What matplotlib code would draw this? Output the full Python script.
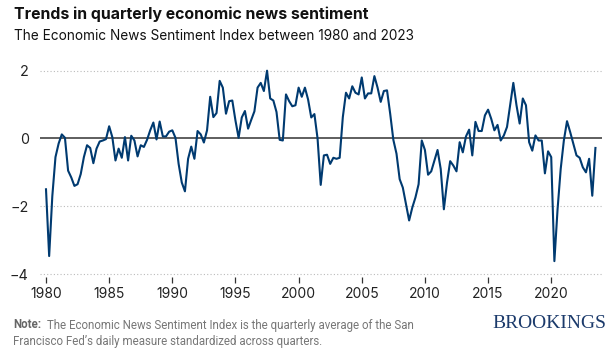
import numpy as np
import matplotlib
matplotlib.use('Agg')
import matplotlib.pyplot as plt

# quarterly index values, 1980Q1 .. 2023Q3
values_by_year = {
    1980: [-1.5, -3.47, -1.7, -0.55],
    1981: [-0.15, 0.12, 0.02, -0.95],
    1982: [-1.15, -1.4, -1.35, -1.05],
    1983: [-0.55, -0.2, -0.28, -0.73],
    1984: [-0.3, -0.09, -0.06, -0.02],
    1985: [0.36, 0.04, -0.65, -0.3],
    1986: [-0.57, 0.04, -0.65, 0.08],
    1987: [-0.06, -0.53, -0.2, -0.25],
    1988: [-0.04, 0.24, 0.47, -0.03],
    1989: [0.5, 0.06, 0.06, 0.2],
    1990: [0.24, 0.02, -0.75, -1.3],
    1991: [-1.56, -0.6, -0.24, -0.6],
    1992: [0.22, 0.12, -0.12, 0.24],
    1993: [1.23, 0.63, 0.75, 1.7],
    1994: [1.5, 0.73, 1.1, 1.12],
    1995: [0.53, 0.02, 0.62, 0.81],
    1996: [0.29, 0.55, 0.8, 1.5],
    1997: [1.64, 1.4, 2.0, 1.18],
    1998: [1.12, 0.78, -0.04, -0.06],
    1999: [1.3, 1.1, 0.95, 0.98],
    2000: [1.5, 1.23, 1.5, 1.15],
    2001: [0.62, 0.72, 0.0, -1.37],
    2002: [-0.5, -0.48, -0.75, -0.57],
    2003: [-0.6, -0.57, 0.63, 1.35],
    2004: [1.18, 1.54, 1.35, 1.3],
    2005: [1.8, 1.18, 1.33, 1.33],
    2006: [1.84, 1.5, 1.08, 1.4],
    2007: [1.42, 0.73, -0.04, -0.45],
    2008: [-1.2, -1.45, -1.94, -2.42],
    2009: [-2.04, -1.74, -1.35, -0.06],
    2010: [-0.34, -1.07, -0.97, -0.65],
    2011: [-0.34, -0.9, -2.09, -1.3],
    2012: [-0.67, -0.8, -0.97, -0.11],
    2013: [-0.41, 0.06, 0.26, -0.5],
    2014: [0.49, 0.22, 0.22, 0.68],
    2015: [0.85, 0.58, 0.24, 0.4],
    2016: [-0.06, 0.09, 0.34, 0.98],
    2017: [1.64, 0.98, 0.44, 1.18],
    2018: [0.98, -0.11, -0.36, 0.09],
    2019: [-0.06, -0.06, -1.03, -0.38],
    2020: [-0.55, -3.62, -2.1, -0.9],
    2021: [-0.06, 0.51, 0.19, -0.16],
    2022: [-0.5, -0.57, -0.85, -1.0],
    2023: [-0.6, -1.69, -0.28],
}

years = []
sentiment = []
for yr, qs in values_by_year.items():
    for i, v in enumerate(qs):
        years.append(yr + i * 0.25)
        sentiment.append(v)

x_ticks = [1980, 1985, 1990, 1995, 2000, 2005, 2010, 2015, 2020]
y_ticks = [-4, -2, 0, 2]

line_color = '#003a70'
text_color = '#222222'

fig = plt.figure(figsize=(6.16, 3.55), dpi=100)
ax = fig.add_axes([40 / 616, 1 - 277.4 / 355, 562 / 616, 210.1 / 355])

for yv in [-4, -2, 2]:
    ax.axhline(yv, color='#bbbbbb', lw=0.8, ls=(0, (1, 2)), zorder=1)
ax.axhline(0, color='#333333', lw=1.1, zorder=2)
ax.plot(years, sentiment, color=line_color, lw=1.5, zorder=3)

ax.set_xlim(1979.525, 2024.02)
ax.set_ylim(-4.1, 2.1)
ax.set_xticks(x_ticks)
ax.set_yticks(y_ticks)
ax.set_yticklabels(['\u22124', '\u22122', '0', '2'])
for s in ax.spines.values():
    s.set_visible(False)
ax.tick_params(axis='x', length=4, width=0.9, color='#333333', pad=3,
               labelsize=10, labelcolor=text_color, direction='out')
ax.tick_params(axis='y', length=0, pad=8, labelsize=10.3, labelcolor=text_color)
for lab in ax.get_xticklabels() + ax.get_yticklabels():
    lab.set_family('Inter')

fig.text(14 / 616, 1 - 14 / 355, 'Trends in quarterly economic news sentiment',
         fontsize=11.4, fontweight='bold', family='Inter', color='#111111',
         va='center', ha='left')
fig.text(14 / 616, 1 - 36 / 355, 'The Economic News Sentiment Index between 1980 and 2023',
         fontsize=9.8, family='Inter', color='#111111', va='center', ha='left')

fig.text(13 / 616, 1 - 325 / 355, 'Note:', fontsize=8.3, fontweight='bold',
         family='Roboto', color='#666666', va='center', ha='left')
fig.text(47 / 616, 1 - 325 / 355,
         'The Economic News Sentiment Index is the quarterly average of the San',
         fontsize=8.3, family='Roboto', color='#777777', va='center', ha='left')
fig.text(13 / 616, 1 - 341 / 355, 'Francisco Fed\u2019s daily measure standardized across quarters.',
         fontsize=8.3, family='Roboto', color='#777777', va='center', ha='left')
fig.text(606 / 616, 1 - 324 / 355, 'BROOKINGS', fontsize=14, family='Liberation Serif',
         color='#1b3a6b', va='center', ha='right')

fig.savefig('out.png', dpi=100)
